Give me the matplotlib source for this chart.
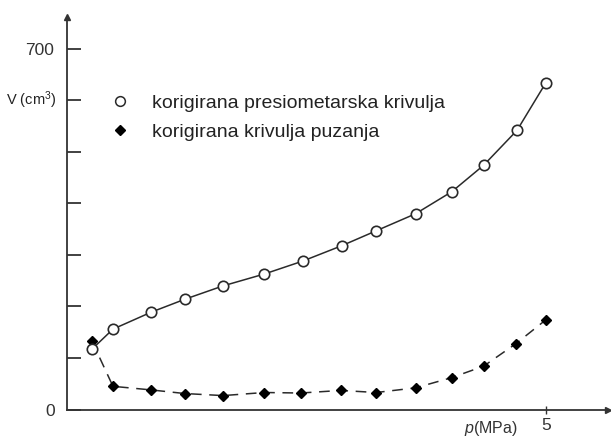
import matplotlib
matplotlib.use('Agg')
import matplotlib.pyplot as plt
from matplotlib.lines import Line2D

plt.rcParams['font.family'] = ['Liberation Sans', 'DejaVu Sans']
plt.rcParams['mathtext.fontset'] = 'custom'
plt.rcParams['mathtext.rm'] = 'Liberation Sans'
plt.rcParams['mathtext.it'] = 'Liberation Sans:italic'

# korigirana presiometarska krivulja
p_pres = [0.26, 0.48, 0.88, 1.23, 1.63, 2.06, 2.46, 2.87, 3.23, 3.64, 4.02, 4.35, 4.70, 5.00]
v_pres = [117, 156, 189, 214, 240, 263, 288, 318, 347, 380, 423, 474, 542, 634]

# korigirana krivulja puzanja
p_puz = [0.26, 0.48, 0.88, 1.23, 1.63, 2.06, 2.44, 2.86, 3.23, 3.64, 4.02, 4.35, 4.69, 5.00]
v_puz = [133, 45, 38, 31, 27, 33, 32, 37, 33, 42, 62, 84, 128, 174]

line_c = '#2a2a2a'
txt_c = '#222222'

fig = plt.figure(figsize=(6.11, 4.37), dpi=100)
ax = fig.add_axes([67 / 611, (437 - 409.5) / 437, (608 - 67) / 611, (409.5 - 17) / 437])

ax.plot(p_puz, v_puz, color=line_c, lw=1.1, ls=(0, (7, 5)), marker='D', ms=5.5,
        mfc='black', mec='black', zorder=2)
ax.plot(p_pres, v_pres, color=line_c, lw=1.1, ls='-', marker='o', ms=7.5,
        mfc='white', mec=line_c, mew=1.2, zorder=3)

ax.set_xlim(0, 5.65)
ax.set_ylim(0, 762)

for s in ['top', 'right']:
    ax.spines[s].set_visible(False)
for s in ['left', 'bottom']:
    ax.spines[s].set_linewidth(1.3)
    ax.spines[s].set_color('#333333')

# arrow heads
ax.plot(1, 0, '>', color='#333333', ms=5, transform=ax.get_yaxis_transform(), clip_on=False)
ax.plot(0, 1, '^', color='#333333', ms=5, transform=ax.get_xaxis_transform(), clip_on=False)

yticks = [0, 100, 200, 300, 400, 500, 600, 700]
ytick_labels = ['0', '', '', '', '', '', '', '700']
ax.set_yticks(yticks)
ax.set_yticklabels(ytick_labels)
ax.tick_params(axis='y', direction='in', length=10, width=1.3, pad=9,
               labelsize=12.5, labelcolor='#333333', color='#333333')

ax.set_xticks([5])
ax.set_xticklabels(['5'])
ax.tick_params(axis='x', direction='inout', length=6, width=1, pad=3,
               labelsize=12.5, labelcolor='#333333', color='#333333')

ax.text(-0.02, 600, 'V (cm$^3$)', transform=ax.get_yaxis_transform(),
        ha='right', va='center', fontsize=10.5, color=txt_c)
fig.text(491 / 611, 1 - 428 / 437, '$p$(MPa)', ha='center', va='center',
         fontsize=11.5, color='#333333')

handles = [
    Line2D([], [], ls='none', marker='o', ms=7, mfc='white', mec=line_c, mew=1.1),
    Line2D([], [], ls='none', marker='D', ms=5, mfc='black', mec='black'),
]
labels = ['korigirana presiometarska krivulja', 'korigirana krivulja puzanja']
leg = ax.legend(handles, labels, loc='upper left', bbox_to_anchor=(0.077, 0.803),
                frameon=False, fontsize=14, handlelength=1.2, handletextpad=1.05,
                labelspacing=0.6, borderaxespad=0, borderpad=0)
for t in leg.get_texts():
    t.set_color(txt_c)

fig.savefig('out.png', dpi=100)
